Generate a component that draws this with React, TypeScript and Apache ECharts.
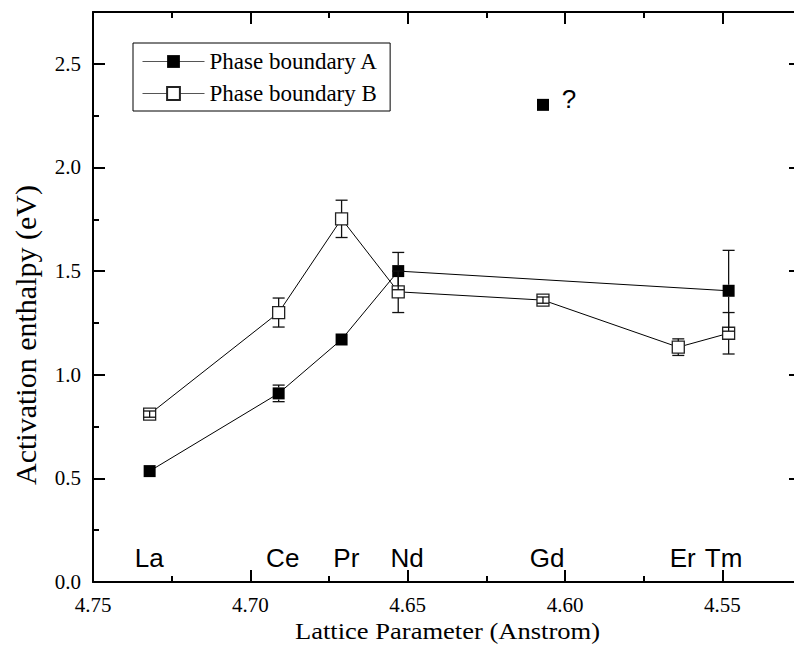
import React, { useEffect, useRef } from "react";
import * as echarts from "echarts";

// ---- data ----
const seriesAName = "Phase boundary A";
const seriesBName = "Phase boundary B";

// lattice parameter (Å), activation enthalpy (eV), error (eV)
const aX = [4.732, 4.691, 4.671, 4.653, 4.548];
const aY = [0.535, 0.91, 1.17, 1.5, 1.405];
const aErr = [0, 0.04, 0, 0.09, 0.195];

const bX = [4.732, 4.691, 4.671, 4.653, 4.607, 4.564, 4.548];
const bY = [0.81, 1.3, 1.752, 1.4, 1.36, 1.133, 1.2];
const bErr = [0.015, 0.07, 0.09, 0.1, 0.015, 0.04, 0.1];

// questionable Gd point of boundary A
const gdX = [4.607];
const gdY = [2.302];

// element annotations
const elementNames = ["La", "Ce", "Pr", "Nd", "Gd", "Er", "Tm", "?"];
const elementX = [4.7321, 4.6897, 4.6695, 4.6502, 4.6057, 4.5626, 4.5496, 4.5987];
const elementY = [0.118, 0.118, 0.118, 0.118, 0.118, 0.118, 0.118, 2.33];

// axes
const xMin = 4.525;
const xMax = 4.75;
const xStep = 0.025;
const xMajor = [4.55, 4.6, 4.65, 4.7, 4.75];
const xMinor = [4.575, 4.625, 4.675, 4.725];
const yMin = 0;
const yMax = 2.75;
const yStep = 0.25;
const yMajor = [0, 0.5, 1, 1.5, 2, 2.5];
const yMinor = [0.25, 0.75, 1.25, 1.75, 2.25];

const xTitle = "Lattice Parameter (Anstrom)";
const yTitle = "Activation enthalpy (eV)";

const SERIF = "Liberation Serif";
const SANS = "Liberation Sans";
const SYM = 12;

const isIn = (v: number, list: number[]) => list.some((m) => Math.abs(m - v) < 1e-6);

export default function App() {
  const ref = useRef<HTMLDivElement>(null);
  useEffect(() => {
    document.body.style.overflow = "hidden";
    document.documentElement.style.overflow = "hidden";
    const chart = echarts.init(ref.current!, null, { renderer: "svg" });

    const xAxisBase = {
      type: "value",
      min: xMin,
      max: xMax,
      interval: xStep,
      inverse: true,
      offset: 0,
      splitLine: { show: false },
      axisPointer: { show: false },
    };
    const yAxisBase = {
      type: "value",
      min: yMin,
      max: yMax,
      interval: yStep,
      offset: 0,
      splitLine: { show: false },
      axisPointer: { show: false },
    };
    const line = { show: true, onZero: false, lineStyle: { color: "#000", width: 2 } };
    const noLine = { show: false, onZero: false };
    const majorTick = (vals: number[]) => ({
      show: true,
      inside: true,
      length: 12,
      customValues: vals,
      lineStyle: { color: "#000", width: 2 },
    });
    const minorTick = (vals: number[]) => ({
      show: true,
      inside: true,
      length: 6,
      customValues: vals,
      lineStyle: { color: "#000", width: 2 },
    });

    const errData = (xs: number[], ys: number[], es: number[]) =>
      xs.map((x, i) => [x, ys[i], es[i]]).filter((d) => d[2] > 0);

    const renderErr = (params: any, api: any) => {
      const x = api.value(0);
      const y = api.value(1);
      const e = api.value(2);
      const c = api.coord([x, y]);
      const top = api.coord([x, y + e]);
      const bot = api.coord([x, y - e]);
      const half = SYM / 2;
      const w = 6;
      const style = { stroke: "#111", lineWidth: 1.3 };
      const children: any[] = [
        { type: "line", shape: { x1: top[0] - w, y1: top[1], x2: top[0] + w, y2: top[1] }, style },
        { type: "line", shape: { x1: bot[0] - w, y1: bot[1], x2: bot[0] + w, y2: bot[1] }, style },
      ];
      if (c[1] - top[1] > half) {
        children.push({ type: "line", shape: { x1: c[0], y1: c[1] - half, x2: top[0], y2: top[1] }, style });
        children.push({ type: "line", shape: { x1: c[0], y1: c[1] + half, x2: bot[0], y2: bot[1] }, style });
      } else {
        children.push({ type: "line", shape: { x1: top[0], y1: top[1], x2: bot[0], y2: bot[1] }, style });
      }
      return { type: "group", children };
    };

    chart.setOption({
      animation: false,
      backgroundColor: "#fff",
      textStyle: { fontFamily: SERIF, color: "#000" },
      grid: { left: 93, right: 9, top: 12, bottom: 73 },
      legend: {
        data: [seriesAName, seriesBName],
        orient: "vertical",
        left: 133,
        top: 43,
        itemWidth: 62,
        itemHeight: 16,
        itemGap: 9,
        padding: [7, 12, 6, 9],
        borderColor: "#000",
        borderWidth: 1,
        backgroundColor: "#fff",
        lineStyle: { color: "#555", width: 1 },
        textStyle: { fontFamily: SERIF, fontSize: 23, color: "#000" },
        selectedMode: false,
      },
      xAxis: [
        {
          ...xAxisBase,
          position: "bottom",
          axisLine: line,
          axisTick: majorTick(xMajor),
          axisLabel: {
            show: true,
            interval: 0,
            formatter: (v: number) => (isIn(v, xMajor) ? Number(v).toFixed(2) : ""),
            fontFamily: SERIF,
            fontSize: 21,
            color: "#000",
            margin: 12,
            showMinLabel: true,
            showMaxLabel: true,
          },
        },
        { ...xAxisBase, position: "bottom", axisLine: noLine, axisTick: minorTick(xMinor), axisLabel: { show: false } },
        { ...xAxisBase, position: "top", axisLine: line, axisTick: majorTick(xMajor), axisLabel: { show: false } },
        { ...xAxisBase, position: "top", axisLine: noLine, axisTick: minorTick(xMinor), axisLabel: { show: false } },
      ],
      yAxis: [
        {
          ...yAxisBase,
          position: "left",
          axisLine: line,
          axisTick: majorTick(yMajor),
          axisLabel: {
            show: true,
            interval: 0,
            formatter: (v: number) => (isIn(v, yMajor) ? Number(v).toFixed(1) : ""),
            fontFamily: SERIF,
            fontSize: 21,
            color: "#000",
            margin: 12,
            showMinLabel: true,
            showMaxLabel: true,
          },
        },
        { ...yAxisBase, position: "left", axisLine: noLine, axisTick: minorTick(yMinor), axisLabel: { show: false } },
        { ...yAxisBase, position: "right", axisLine: line, axisTick: majorTick(yMajor), axisLabel: { show: false } },
        { ...yAxisBase, position: "right", axisLine: noLine, axisTick: minorTick(yMinor), axisLabel: { show: false } },
      ],
      graphic: [
        {
          type: "text",
          x: 25,
          y: 335,
          rotation: Math.PI / 2,
          style: {
            text: yTitle,
            fontFamily: SERIF,
            fontSize: 30,
            fill: "#000",
            align: "center",
            verticalAlign: "middle",
          },
        },
        {
          type: "text",
          x: 447.5,
          y: 631,
          scaleX: 1.13,
          style: {
            text: xTitle,
            fontFamily: SERIF,
            fontSize: 23.5,
            fill: "#000",
            align: "center",
            verticalAlign: "middle",
          },
        },
      ],
      series: [
        {
          name: seriesAName,
          type: "line",
          data: aX.map((x, i) => [x, aY[i]]),
          symbol: "rect",
          symbolSize: SYM,
          itemStyle: { color: "#000" },
          lineStyle: { color: "#000", width: 1 },
          z: 3,
        },
        {
          name: seriesBName,
          type: "line",
          data: bX.map((x, i) => [x, bY[i]]),
          symbol: "rect",
          symbolSize: SYM,
          itemStyle: { color: "#fff", borderColor: "#222", borderWidth: 1.3 },
          lineStyle: { color: "#000", width: 1 },
          z: 3,
        },
        {
          name: "Gd (A)",
          type: "scatter",
          data: gdX.map((x, i) => [x, gdY[i]]),
          symbol: "rect",
          symbolSize: SYM,
          itemStyle: { color: "#000", opacity: 1 },
          z: 3,
        },
        {
          name: "err A",
          type: "custom",
          data: errData(aX, aY, aErr),
          renderItem: renderErr,
          encode: { x: 0, y: 1 },
          z: 5,
          silent: true,
        },
        {
          name: "err B",
          type: "custom",
          data: errData(bX, bY, bErr),
          renderItem: renderErr,
          encode: { x: 0, y: 1 },
          z: 5,
          silent: true,
        },
        {
          name: "elements",
          type: "scatter",
          data: elementX.map((x, i) => [x, elementY[i], elementNames[i]]),
          symbolSize: 2,
          itemStyle: { color: "rgba(0,0,0,0)", opacity: 1 },
          silent: true,
          label: {
            show: true,
            position: "inside",
            formatter: (p: any) => p.value[2],
            fontFamily: SANS,
            fontSize: 26,
            color: "#000",
          },
          labelLayout: { hideOverlap: false },
          z: 4,
        },
      ],
    });
    return () => chart.dispose();
  }, []);
  return (
    <div
      ref={ref}
      style={{ position: "fixed", left: 0, top: 0, width: 810, height: 655 }}
    />
  );
}
